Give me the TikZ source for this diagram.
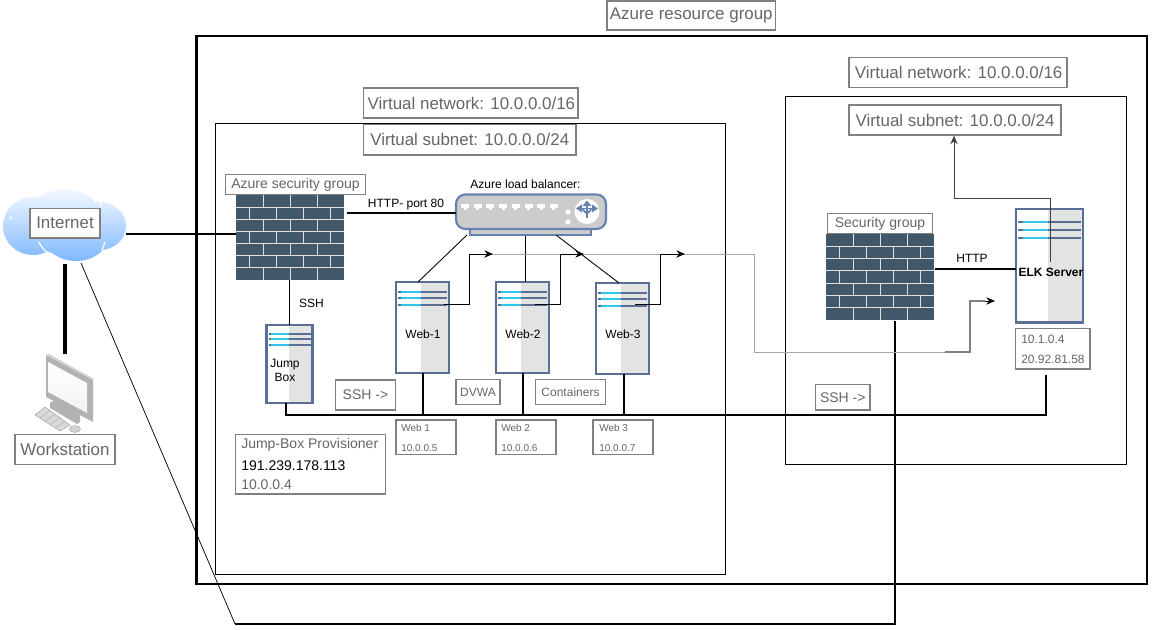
\documentclass[tikz,border=0pt]{standalone}
\usepackage{fontspec}
\setmainfont{Liberation Sans}
\usetikzlibrary{arrows.meta,calc}
\definecolor{bordergray}{HTML}{808080}
\definecolor{txtgray}{HTML}{666666}
\definecolor{srvblue}{HTML}{5A6F96}
\definecolor{srvcyan}{HTML}{2FC6EE}
\definecolor{srvgray}{HTML}{E3E3E3}
\definecolor{brick}{HTML}{40586A}
\definecolor{lbblue}{HTML}{6682B0}
\definecolor{cloudlow}{HTML}{7FB8FF}
\definecolor{cloudtop}{HTML}{F4F9FF}
\tikzset{
  x=0.75pt,y=-0.75pt,
  fa/.style={font=\fontsize{7.5}{9}\selectfont},
  fb/.style={font=\fontsize{9}{11}\selectfont},
  fc/.style={font=\fontsize{10.5}{12}\selectfont},
  fd/.style={font=\fontsize{12.7}{15}\selectfont},
  lblbox/.style={draw=bordergray,line width=0.85pt,fill=white,text=txtgray,inner sep=0pt},
  plain/.style={inner sep=0pt,text=black},
  holder/.style={inner sep=0pt,outer sep=0pt},
  zone/.style={draw=black,line width=0.7pt},
  conn/.style={draw=black,line width=0.8pt},
  connthin/.style={draw=black,line width=0.55pt},
  connthick/.style={draw=black,line width=1.5pt},
  pipe/.style={draw=black,line width=3.2pt},
  tip/.style={-{Stealth[length=6.5pt,width=5.5pt]}},
}
% name, x1, y1, x2, y2, font style, text
\newcommand\lblnode[7]{%
  \node[lblbox,#6,minimum width={(#4-#2)*0.75pt},minimum height={(#5-#3)*0.75pt}]
    (#1) at ({(#2+#4)/2},{(#3+#5)/2}) {#7};}
% name, x, y, w, h
\newcommand\serverbox[5]{%
  \begin{scope}[shift={(#2,#3)}]
    \fill[white] (0,0) rectangle (#4,#5);
    \fill[srvgray] ({0.48*#4},0) rectangle (#4,#5);
    \foreach \f in {0.19,0.31,0.43}{
      \draw[srvblue,line width=1.5pt] (2,{\f*#4}) -- ({#4-2},{\f*#4});
      \draw[srvcyan,line width=1.6pt] ({0.1*#4},{\f*#4}) -- ({0.48*#4},{\f*#4});
    }
    \draw[srvblue,line width=1.6pt] (0,0) rectangle (#4,#5);
  \end{scope}
  \node[holder,minimum width={#4*0.75pt},minimum height={#5*0.75pt}] (#1) at ({#2+#4/2},{#3+#5/2}) {};}
% name, x, y, w, h
\newcommand\firewallbox[5]{%
  \begin{scope}[shift={(#2,#3)}]
    \fill[brick] (0,0) rectangle (#4,#5);
    \foreach \r in {1,...,6}{
      \draw[white!88!black,line width=0.6pt] (0,{\r*#5/7}) -- (#4,{\r*#5/7});
    }
    \foreach \r in {0,2,4,6}{
      \foreach \c in {0.25,0.5,0.75}{
        \draw[white!88!black,line width=0.6pt] ({\c*#4},{\r*#5/7}) -- ({\c*#4},{(\r+1)*#5/7});
      }
    }
    \foreach \r in {1,3,5}{
      \foreach \c in {0.125,0.375,0.625,0.875}{
        \draw[white!88!black,line width=0.6pt] ({\c*#4},{\r*#5/7}) -- ({\c*#4},{(\r+1)*#5/7});
      }
    }
  \end{scope}
  \node[holder,minimum width={#4*0.75pt},minimum height={#5*0.75pt}] (#1) at ({#2+#4/2},{#3+#5/2}) {};}
\begin{document}
\begin{tikzpicture}
\useasboundingbox (0,0) rectangle (1161,630);
% zones
\draw[draw=black,line width=1.7pt] (196.5,36) rectangle (1147,584);
\draw[zone] (215.5,123.5) rectangle (725,574);
\draw[zone] (785.5,96.5) rectangle (1126,464);
% zone labels
\lblnode{rg}{607}{1}{775.5}{30}{fd}{Azure resource group}
\lblnode{vn1}{363.5}{88}{578}{118}{fd}{\hspace{1pt}Virtual network: 10.0.0.0/16}
\lblnode{sn1}{363.5}{124.5}{576}{155}{fd}{Virtual subnet: 10.0.0.0/24\hspace{3pt}}
\lblnode{vn2}{849}{57.5}{1067}{87.5}{fd}{\hspace{1pt}Virtual network: 10.0.0.0/16}
\lblnode{sn2}{849}{105}{1061}{135}{fd}{Virtual subnet: 10.0.0.0/24\hspace{2pt}}
% cloud
\shade[top color=cloudtop,bottom color=cloudlow]
  (33,226) ellipse [x radius=30,y radius=29]
  (65,222) ellipse [x radius=38,y radius=33]
  (76,235) ellipse [x radius=33,y radius=26]
  (100,226) ellipse [x radius=26,y radius=24];
\draw[white,line width=0.9pt,line cap=round] (39,242) .. controls (41,247) and (44,250) .. (48,253);
\draw[white,line width=0.9pt,line cap=round] (105,242) -- (102,250);
\draw[white,line width=0.9pt,line cap=round] (10,217) -- (12,219);
\draw[white,line width=0.9pt,line cap=round] (100,200) -- (101,207);
\node[holder,minimum width={123*0.75pt},minimum height={72*0.75pt}] (cloud) at (64.5,225.5) {};
\lblnode{inet}{30}{208.5}{100}{238}{fd}{Internet}
% workstation
\begin{scope}
  \fill[gray!60] (50,403) -- (55,400) -- (80,415) -- (80,422) -- (77,424) -- (50,408) -- cycle;
  \fill[gray!30,draw=gray!80,line width=0.3pt] (35,415) -- (45,407) -- (70,425) -- (60,431) -- cycle;
  \foreach \t in {0.2,0.4,0.6,0.8}{\draw[gray!70,line width=0.3pt] ($(35,415)!\t!(60,431)$) -- ($(45,407)!\t!(70,425)$);}
  \fill[gray!60] (46,355) -- (93,380) -- (93,422) -- (46,397) -- cycle;
  \fill[gray!35] (46,355) -- (49,354) -- (94,379) -- (93,380) -- cycle;
  \shade[top color=white,bottom color=gray!10] (48,362) -- (87,383) -- (87,413) -- (48,392) -- cycle;
  \fill[gray!35,draw=gray!70,line width=0.3pt] (75,429) ellipse [x radius=5.5,y radius=3.5];
\end{scope}
\coordinate (wsTop) at (65,354);
\lblnode{ws}{15}{434.5}{115}{464.5}{fd}{Workstation}
% firewalls
\firewallbox{fw1}{236}{195}{108}{85}
\firewallbox{fw2}{826}{234}{108}{86}
\lblnode{sg1}{225.5}{174.5}{365.5}{194.5}{fc}{Azure security group}
\lblnode{sg2}{827.5}{213.5}{932.5}{233.5}{fc}{Security group}
% load balancer
\fill[gray!40,draw=lbblue,line width=1.1pt] (470,227) rectangle (591,235);
\fill[gray!40,draw=lbblue,line width=1.6pt,rounded corners=7pt] (456,194.5) rectangle (606,229);
\foreach \i in {0,...,7}{
  \fill[white] ({461+12.7*\i},204.5) rectangle ({469+12.7*\i},208);
  \fill[white] ({463.5+12.7*\i},208) rectangle ({466.5+12.7*\i},210);
}
\fill[white] (568,212) circle [radius=2.7];
\fill[white] (568,222) circle [radius=2.7];
\fill[white] (587,211.5) circle [radius=12.5];
\draw[lbblue,line width=1.5pt] (587,218.5) -- (587,205);
\draw[lbblue,line width=1.4pt] (581,208.5) -- (593,208.5);
\draw[lbblue,line width=1.4pt] (583,208.5) .. controls (583,212) and (587,212) .. (587,214);
\draw[lbblue,line width=1.4pt] (591,208.5) .. controls (591,212) and (587,212) .. (587,214);
\fill[lbblue] (582.5,206) -- (587,200.5) -- (591.5,206) -- cycle;
\fill[lbblue] (576,208.5) -- (582,204.5) -- (582,212.5) -- cycle;
\fill[lbblue] (598,208.5) -- (592,204.5) -- (592,212.5) -- cycle;
\node[holder,minimum width={150*0.75pt},minimum height={41*0.75pt}] (lb) at (531,214.5) {};
\node[plain,fb] (lbl) at (525.5,184.5) {Azure load balancer:};
% servers
\serverbox{jump}{266.5}{325}{46}{78}
\serverbox{web1}{396}{282}{53}{91}
\serverbox{web2}{496}{282}{53}{91}
\serverbox{web3}{596}{283}{53}{91}
\serverbox{elk}{1016}{209}{67}{113.5}
\node[plain,fb,align=center] (jumpl) at (285,370) {Jump\\[-0.5pt]Box};
\node[plain,fb] (web1l) at (423,334.5) {Web-1};
\node[plain,fb] (web2l) at (523,334.5) {Web-2};
\node[plain,fb] (web3l) at (623,334.5) {Web-3};
\node[plain,fb,font=\fontsize{9}{11}\selectfont\bfseries] (elkl) at (1051,272) {ELK Server};
% boxes
\lblnode{ssh1}{335.5}{380}{395.5}{410}{fc}{SSH ->\hspace{3pt}}
\lblnode{ssh2}{815.5}{384.5}{870}{410}{fc}{SSH ->}
\lblnode{dvwa}{456}{379.5}{500}{404.5}{fb}{DVWA}
\lblnode{cont}{535.5}{379.5}{605.5}{404.5}{fb}{Containers}
\lblnode{w1b}{396}{420}{456}{454.5}{fa}{}
\lblnode{w2b}{496}{420}{556}{454.5}{fa}{}
\lblnode{w3b}{593}{420}{653}{454.5}{fa}{}
\lblnode{jpb}{235.5}{434.5}{385.5}{494}{fc}{}
\lblnode{elkb}{1015.5}{328.5}{1090}{369}{fb}{}
\foreach \n/\x/\a/\b in {w1t/401/Web 1/10.0.0.5,w2t/501/Web 2/10.0.0.6,w3t/599/Web 3/10.0.0.7}{
  \node[plain,fa,text=txtgray,anchor=west] (\n a) at (\x,428) {\a};
  \node[plain,fa,text=txtgray,anchor=west] (\n b) at (\x,448) {\b};
}
\node[plain,fc,text=txtgray,anchor=west] (jp1) at (241,445) {Jump-Box Provisioner};
\node[plain,fc,anchor=west] (jp2) at (241,465.5) {191.239.178.113};
\node[plain,fc,text=txtgray,anchor=west] (jp3) at (241,485) {10.0.0.4};
\node[plain,fb,text=txtgray,anchor=west] (ek1) at (1021,339.5) {10.1.0.4};
\node[plain,fb,text=txtgray,anchor=west] (ek2) at (1021,359.5) {20.92.81.58};
% connector labels
\node[plain,fb] (lssh) at (311.5,303.5) {SSH};
\node[plain,fb] (lhttp) at (406,205) {HTTP- port 80};
\node[plain,fb] (lhttp2) at (972,258.5) {HTTP};
% free connector ends
\coordinate (cloudL) at (81,263);
\coordinate (cloudB) at (65,264);
\coordinate (cBend) at (235,624);
\coordinate (cCorner) at (895,624);
\coordinate (fw2b) at (895,321.5);
\coordinate (bus) at (286,415);
\coordinate (elkBus) at (1046,375);
\coordinate (w1o) at (444,304);
\coordinate (w2o) at (535,304);
\coordinate (w3o) at (635,304);
\coordinate (gS) at (469,254);
\coordinate (gT) at (754,254);
\coordinate (gB) at (754,352);
\coordinate (gE) at (945,352);
\coordinate (gF) at (970,352);
\coordinate (gU) at (970,301);
\coordinate (gTip) at (995,301);
\coordinate (a1) at (493,254);
\coordinate (a2) at (584,254);
\coordinate (a3) at (685,254);
\coordinate (j2) at (560,254);
\coordinate (j3) at (660,254);
\coordinate (elkO) at (1050,262);
\coordinate (elkC) at (1050,198);
\coordinate (snC) at (954,198);
% connectors
\draw[conn,line width=1.5pt] (cloud.east |- 0,234) -- (fw1.west |- 0,234);
\draw[pipe] (cloudB) -- (wsTop);
\draw[connthin] (cloudL) -- (cBend);
\draw[connthick,line width=1.2pt,line join=miter] (cBend) -- (cCorner) -- (fw2b);
\draw[conn] ([xshift=2pt]fw1.east |- 0,213) -- (lb.west |- 0,213);
\draw[conn] (fw1.south -| 289.5,0) -- (jump.north -| 289.5,0);
\draw[connthin,line width=0.65pt] (467,235) -- (web1.north -| 418,0);
\draw[conn,line width=1.2pt] (525.5,236) -- (web2.north -| 525.5,0);
\draw[connthin,line width=0.65pt] (556,235) -- (web3.north -| 619,0);
\draw[draw=gray!70,line width=0.5pt] (gS) -- (gT) -- (gB) -- (gE);
\draw[draw=gray,line width=0.9pt] (gE) -- (gF) -- (gU) -- (gU -| 985,0);
\draw[draw=black,tip,line width=0.5pt] (gU -| 985,0) -- (gTip);
\draw[connthin,line width=0.65pt,tip] (w1o) -| (gS) -- (a1);
\draw[connthin,line width=0.65pt] (w2o) -| (j2);
\draw[draw=black,line width=0.5pt,tip] (j2) -- (a2);
\draw[connthin,line width=0.65pt,tip] (w3o) -| (j3) -- (a3);
\draw[connthick,line width=1.7pt] (jump.south -| bus) -- (bus) -- (bus -| elkBus) -- (elkBus);
\draw[conn,line width=1.2pt] (web1.south -| 423,0) -- (423,415);
\draw[conn,line width=1.2pt] (web2.south -| 523,0) -- (523,415);
\draw[conn,line width=1.2pt] (web3.south -| 624,0) -- (624,415);
\draw[conn] (fw2.east |- 0,269) ++(1,0) -- (elk.west |- 0,269);
\draw[draw=black!75,line width=0.65pt,tip] (elkO) -- (elkC) -- (snC) -- (sn2.south -| snC);
\end{tikzpicture}
\end{document}
